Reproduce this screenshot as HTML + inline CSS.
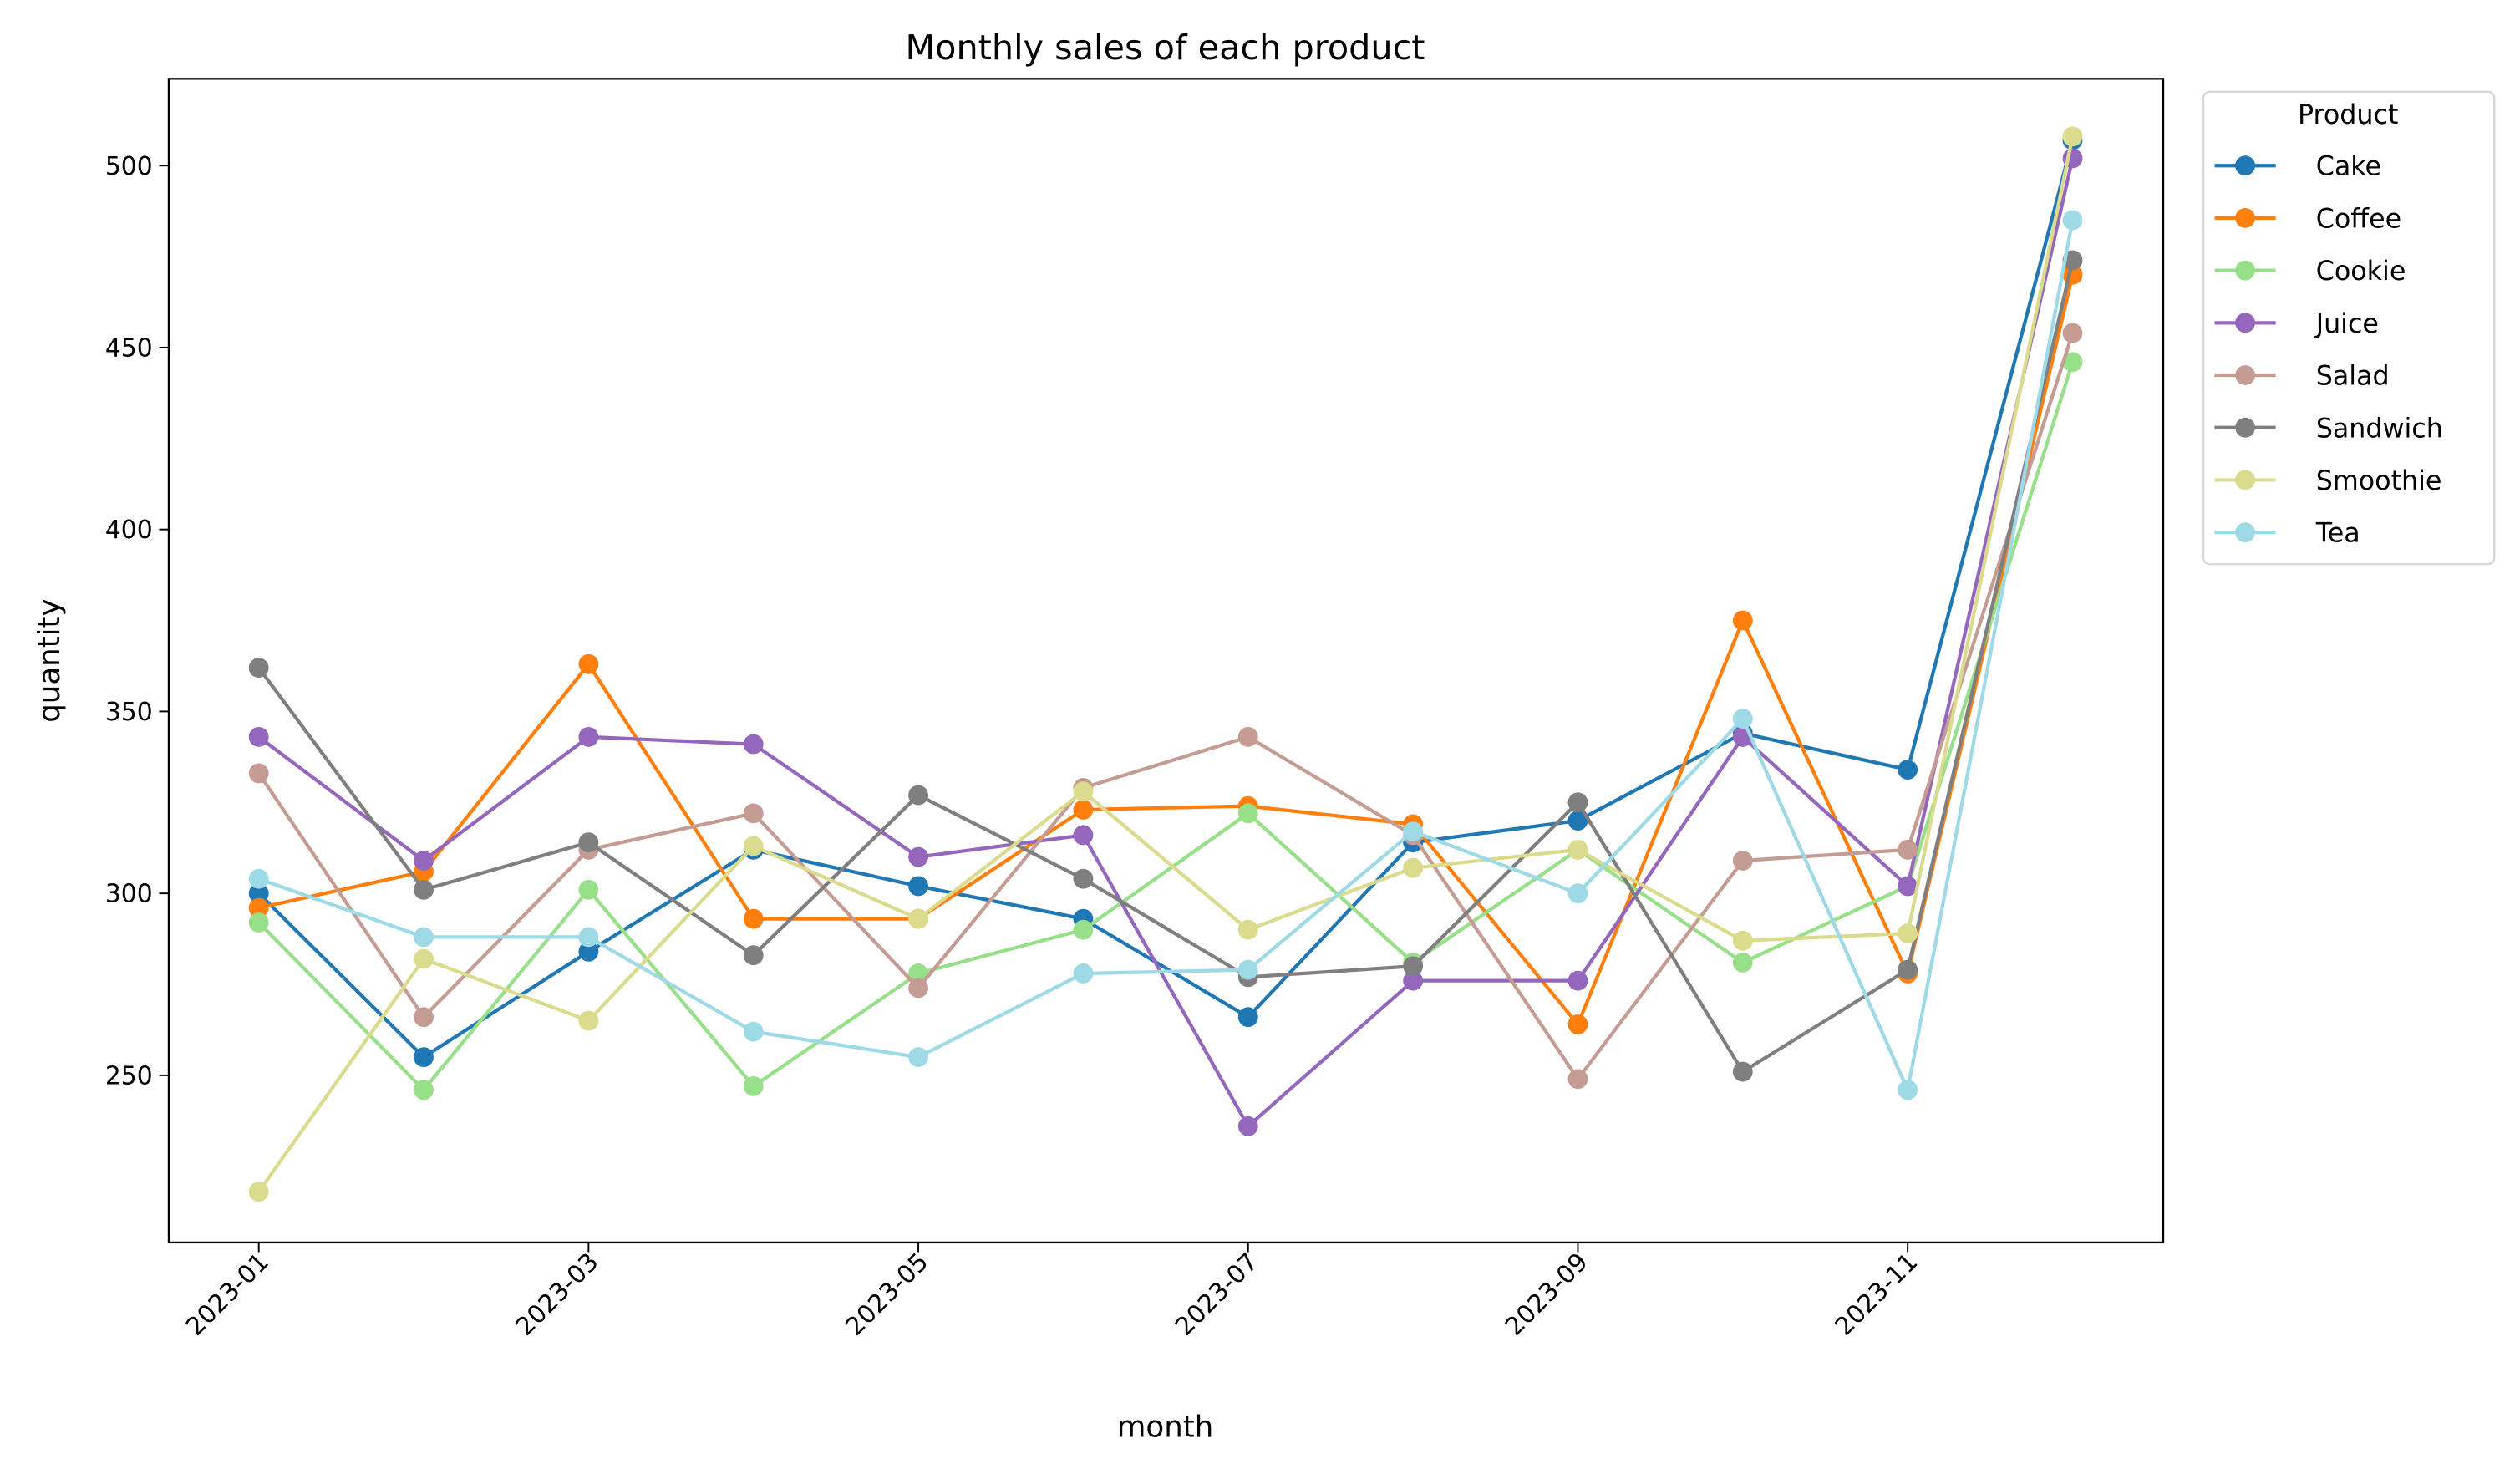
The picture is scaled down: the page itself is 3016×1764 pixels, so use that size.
<!DOCTYPE html>
<html><head><meta charset="utf-8">
<style>html,body{margin:0;padding:0;background:#fff;}svg{display:block;}text{font-family:"DejaVu Sans","Liberation Sans",sans-serif;fill:#000;}</style>
</head><body>
<svg id="chart" width="3016" height="1764" viewBox="0 0 1568 917" xmlns="http://www.w3.org/2000/svg">
<rect width="1568" height="917" fill="#fff"/>
<text x="725" y="37" font-size="21.5" text-anchor="middle">Monthly sales of each product</text>
<g id="plot"></g>
<rect x="105" y="49" width="1241" height="724" fill="none" stroke="#000" stroke-width="1.2"/>
<text x="725" y="894" font-size="18.5" text-anchor="middle">month</text>
<text x="37" y="411" font-size="18.5" text-anchor="middle" transform="rotate(-90 37 411)">quantity</text>
<g id="legend"></g>
</svg>
<script>
const months = ["2023-01","2023-02","2023-03","2023-04","2023-05","2023-06","2023-07","2023-08","2023-09","2023-10","2023-11","2023-12"];
const products = ["Cake","Coffee","Cookie","Juice","Salad","Sandwich","Smoothie","Tea"];
const colors = ["#1f77b4","#ff7f0e","#98df8a","#9467bd","#c49c94","#7f7f7f","#dbdb8d","#9edae5"];
const cake = [300,255,284,312,302,293,266,314,320,344,334,507];
const coffee = [296,306,363,293,293,323,324,319,264,375,278,470];
const cookie = [292,246,301,247,278,290,322,281,312,281,302,446];
const juice = [343,309,343,341,310,316,236,276,276,343,302,502];
const salad = [333,266,312,322,274,329,343,316,249,309,312,454];
const sandwich = [362,301,314,283,327,304,277,280,325,251,279,474];
const smoothie = [218,282,265,313,293,328,290,307,312,287,289,508];
const tea = [304,288,288,262,255,278,279,317,300,348,246,485];
const series = [cake,coffee,cookie,juice,salad,sandwich,smoothie,tea];
const yTicks = [250,300,350,400,450,500];
const xTickIdx = [0,2,4,6,8,10];

const NS="http://www.w3.org/2000/svg";
function mk(tag,attrs,parent){const e=document.createElementNS(NS,tag);for(const k in attrs)e.setAttribute(k,attrs[k]);parent.appendChild(e);return e;}
const x = i => 161 + i*102.6;
const y = v => 103 + (500-v)*2.264;
const plot=document.getElementById('plot');

yTicks.forEach(t=>{
  const l=mk('line',{x1:99,x2:105,y1:y(t),y2:y(t),stroke:'#000','stroke-width':1},plot);
  
  
  const tx=mk('text',{x:95,y:y(t)+5.5,'font-size':15.5,'text-anchor':'end'},plot);
  tx.textContent=t;
  
  
});
xTickIdx.forEach(i=>{
  const l=mk('line',{x1:x(i),x2:x(i),y1:773,y2:779,stroke:'#000','stroke-width':1},plot);
  
  
  const px=x(i)+7, py=786;
  const tx=mk('text',{x:px,y:py,'font-size':15.5,'text-anchor':'end',transform:`rotate(-45 ${px} ${py})`},plot);
  tx.textContent=months[i];
  
  
});
series.forEach((s,si)=>{
  const g=mk('g',{},plot);
  
  
  const pl=mk('polyline',{points:s.map((v,i)=>x(i)+','+y(v)).join(' '),fill:'none',stroke:colors[si],'stroke-width':2.2,'stroke-linejoin':'round'},g);
  
  
  s.forEach((v,i)=>{
    const c=mk('circle',{cx:x(i),cy:y(v),r:6.2,fill:colors[si]},g);
    
    
  });
});
const lg=document.getElementById('legend');
const box=mk('rect',{x:1371,y:57,width:181,height:294,rx:4,fill:'#fff',stroke:'#d6d6d6','stroke-width':1.2},lg);


const lt=mk('text',{x:1461,y:77,'font-size':16.5,'text-anchor':'middle'},lg);
lt.textContent='Product';


products.forEach((p,i)=>{
  const yy=103+i*32.6;
  const g=mk('g',{},lg);
  
  
  mk('line',{x1:1378,x2:1416,y1:yy,y2:yy,stroke:colors[i],'stroke-width':2.2},g);
  mk('circle',{cx:1397,cy:yy,r:6.2,fill:colors[i]},g);
  const t=mk('text',{x:1441,y:yy+6,'font-size':16.5},g);
  t.textContent=p;
});
</script>
</body></html>
